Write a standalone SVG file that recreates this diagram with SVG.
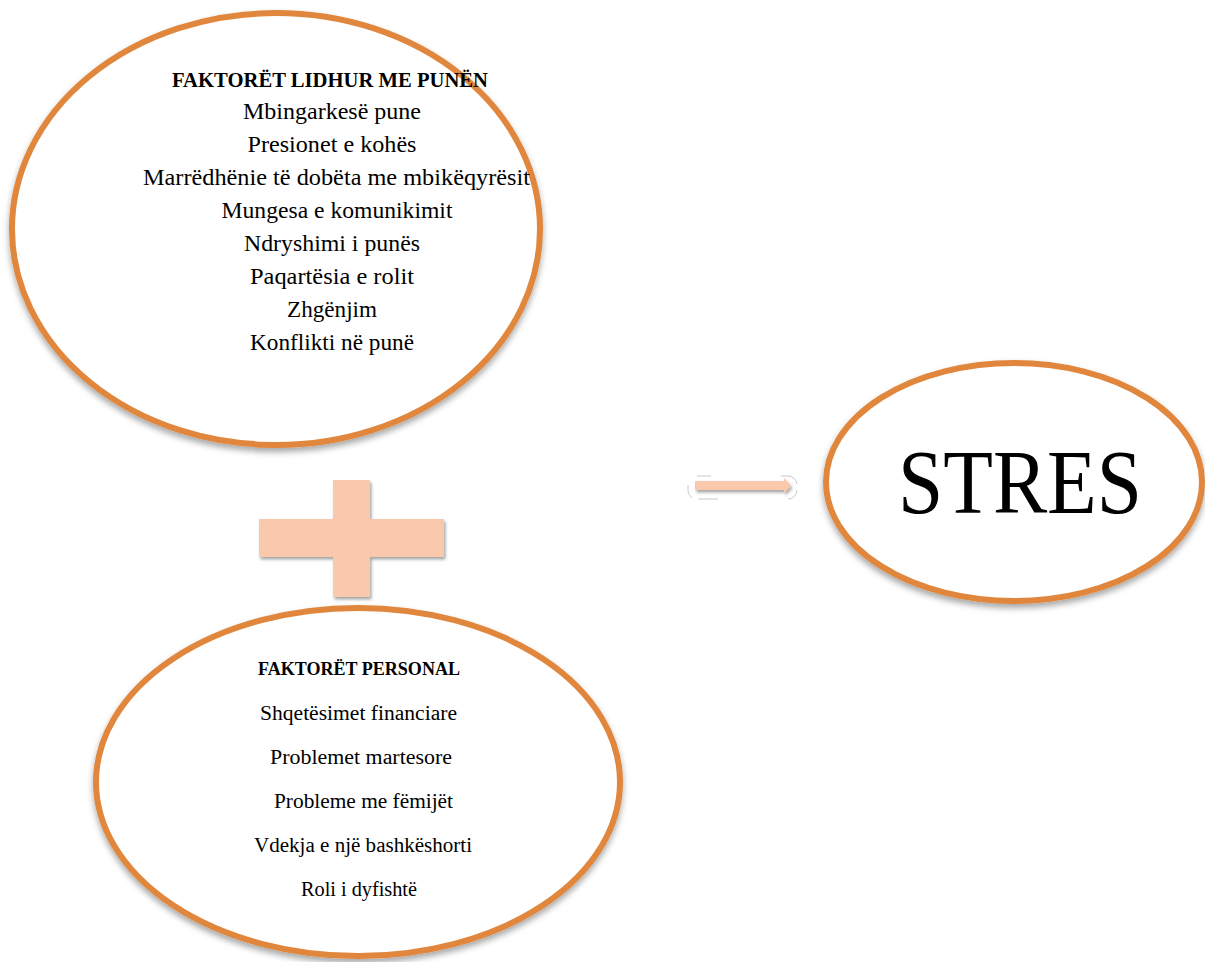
<svg xmlns="http://www.w3.org/2000/svg" width="1205" height="962" viewBox="0 0 1205 962">
  <style>
    .oval { fill: #ffffff; stroke: #E0873D; stroke-width: 6; }
    .t { font-family: "Liberation Serif", "DejaVu Serif", serif; fill: #000; text-anchor: middle; }
    .h { font-weight: bold; }
    .peach { fill: #F9C8AD; }
  </style>
  <defs>
    <filter id="sh" x="-10%" y="-10%" width="120%" height="130%">
      <feDropShadow dx="0" dy="4" stdDeviation="3" flood-color="#000" flood-opacity="0.35"/>
    </filter>
    <filter id="sh2" x="-10%" y="-20%" width="130%" height="150%">
      <feDropShadow dx="1.5" dy="2.5" stdDeviation="1.5" flood-color="#000" flood-opacity="0.35"/>
    </filter>
  </defs>
  <rect width="1205" height="962" fill="#ffffff"/>

  <g id="work-factors">
    <ellipse class="oval" cx="276" cy="229" rx="264" ry="216" filter="url(#sh)"/>
    <text class="t h" x="330" y="87" font-size="21.5" textLength="316" lengthAdjust="spacingAndGlyphs">FAKTORËT LIDHUR ME PUNËN</text>
    <g font-size="22.5">
      <text class="t" x="332" y="119" textLength="178" lengthAdjust="spacingAndGlyphs">Mbingarkesë pune</text>
      <text class="t" x="332" y="152" textLength="169" lengthAdjust="spacingAndGlyphs">Presionet e kohës</text>
      <text class="t" x="336.5" y="185" textLength="387" lengthAdjust="spacingAndGlyphs">Marrëdhënie të dobëta me mbikëqyrësit</text>
      <text class="t" x="337" y="218" textLength="231" lengthAdjust="spacingAndGlyphs">Mungesa e komunikimit</text>
      <text class="t" x="332" y="251" textLength="176" lengthAdjust="spacingAndGlyphs">Ndryshimi i punës</text>
      <text class="t" x="332" y="284" textLength="164" lengthAdjust="spacingAndGlyphs">Paqartësia e rolit</text>
      <text class="t" x="332" y="317" textLength="90" lengthAdjust="spacingAndGlyphs">Zhgënjim</text>
      <text class="t" x="332" y="350" textLength="164" lengthAdjust="spacingAndGlyphs">Konflikti në punë</text>
    </g>
  </g>

  <g id="plus">
    <path class="peach" filter="url(#sh2)" d="M333,480 H370 V519 H444 V557 H370 V597 H333 V557 H259 V519 H333 Z"/>
  </g>

  <g id="personal-factors">
    <ellipse class="oval" cx="358" cy="782" rx="262" ry="174" filter="url(#sh)"/>
    <text class="t h" x="359" y="675" font-size="18" textLength="202" lengthAdjust="spacingAndGlyphs">FAKTORËT PERSONAL</text>
    <g font-size="20">
      <text class="t" x="358.5" y="720" textLength="197" lengthAdjust="spacingAndGlyphs">Shqetësimet financiare</text>
      <text class="t" x="361" y="764" textLength="182" lengthAdjust="spacingAndGlyphs">Problemet martesore</text>
      <text class="t" x="363.5" y="808" textLength="179" lengthAdjust="spacingAndGlyphs">Probleme me fëmijët</text>
      <text class="t" x="363" y="852" textLength="218" lengthAdjust="spacingAndGlyphs">Vdekja e një bashkëshorti</text>
      <text class="t" x="359" y="896" textLength="116" lengthAdjust="spacingAndGlyphs">Roli i dyfishtë</text>
    </g>
  </g>

  <g id="stres">
    <ellipse class="oval" cx="1014" cy="482" rx="188" ry="119" filter="url(#sh)"/>
    <text class="t" x="1020" y="513" font-size="90" textLength="244" lengthAdjust="spacingAndGlyphs">STRES</text>
  </g>

  <g id="connectors">
    <rect x="688" y="476" width="109" height="23" rx="9" fill="none" stroke="#c9c9c9" stroke-width="1" stroke-dasharray="14 70 20 6"/>
    <polygon class="peach" filter="url(#sh2)" points="695,481 784,481 784,478 791,485.5 784,493 784,490 695,490"/>
  </g>
</svg>
